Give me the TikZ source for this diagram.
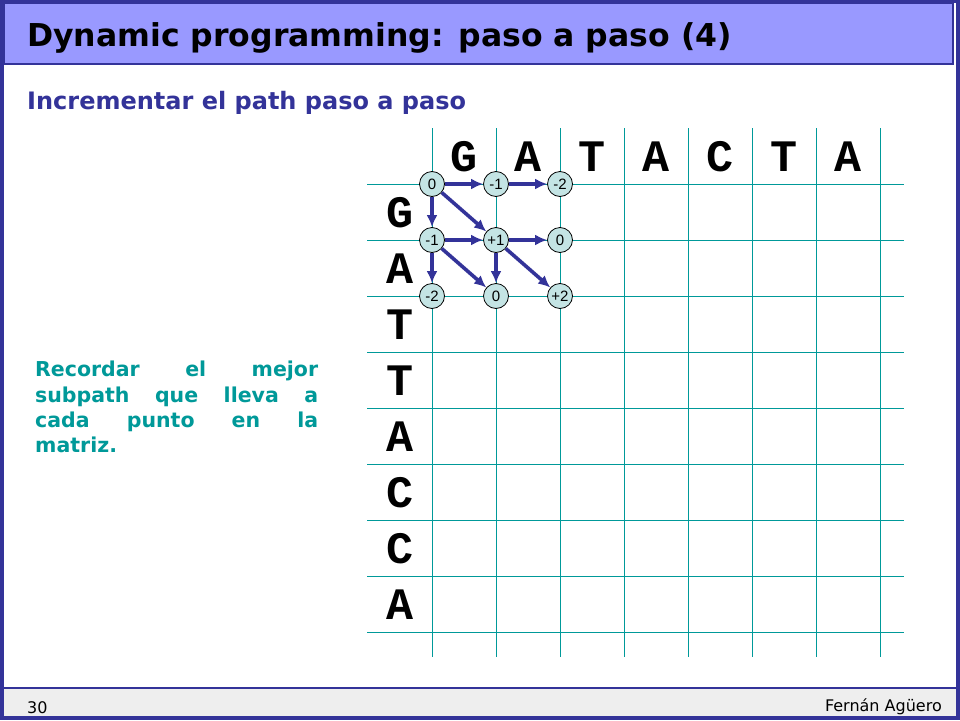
\documentclass[tikz,border=0pt]{standalone}
\usepackage{fontspec}
\setmainfont{DejaVu Sans}
\newfontfamily\seqfont{Liberation Mono}
\newfontfamily\numfont{Liberation Sans}
\usetikzlibrary{arrows.meta}
\definecolor{slideblue}{HTML}{333399}
\definecolor{titlefill}{HTML}{9999FF}
\definecolor{gridteal}{HTML}{009999}
\definecolor{dotfill}{HTML}{C4E4E4}
\definecolor{footgrey}{HTML}{EEEEEE}
\tikzset{
  seq/.style={font=\seqfont\bfseries\fontsize{45}{45}\selectfont},
  score/.style={circle, draw=black, line width=0.8pt, fill=dotfill, minimum size=25pt, inner sep=0pt,
    font=\numfont\fontsize{15}{15}\selectfont},
  move/.style={-{Latex[length=12pt,width=11pt]}, line width=3.6pt, slideblue},
}
\begin{document}
\begin{tikzpicture}[x=1pt, y=-1pt]
\useasboundingbox (0,0) rectangle (960,720);
% slide frame
\fill[slideblue] (0,0) rectangle (960,720);
\fill[white] (4,3) rectangle (956,716);
\fill[footgrey] (4,689) rectangle (956,716);
\draw[slideblue, line width=1.5pt] (4,688) -- (956,688);
\filldraw[fill=titlefill, draw=slideblue, line width=1.5pt] (4,3) rectangle (953,64);
\node[anchor=base west, inner sep=0pt, font=\bfseries\fontsize{31.5}{31.5}\selectfont] (title) at (27,46) {Dynamic programming: paso a paso (4)};
\node[anchor=base west, inner sep=0pt, text=slideblue, font=\bfseries\fontsize{24}{24}\selectfont] (sub) at (27,109) {Incrementar el path paso a paso};
\node[anchor=north west, inner sep=0pt, text width=283pt, align=justify, text=gridteal,
  font=\bfseries\fontsize{20.5}{25.3}\selectfont] (note) at (35,361)
  {Recordar el mejor\linebreak subpath que lleva a\linebreak cada punto en la\linebreak matriz.};
\node[anchor=base west, inner sep=0pt, font=\fontsize{16}{16}\selectfont] (page) at (27,713) {30};
\node[anchor=base east, inner sep=0pt, font=\fontsize{16}{16}\selectfont] (author) at (942,711) {Fernán Agüero};
% matrix grid
\foreach \x in {432,496,...,880} \draw[gridteal, line width=1pt] (\x,128) -- (\x,657);
\foreach \y in {184,240,...,632} \draw[gridteal, line width=1pt] (367,\y) -- (904,\y);
\foreach \b [count=\i from 0] in {G,A,T,A,C,T,A}
  \node[seq] (top\i) at (464+64*\i,157) {\b};
\foreach \b [count=\i from 0] in {G,A,T,T,A,C,C,A}
  \node[seq] (left\i) at (400,213+56*\i) {\b};
% scores
\node[score] (s00) at (432,184) {0};
\node[score] (s01) at (496,184) {-1};
\node[score] (s02) at (560,184) {-2};
\node[score] (s10) at (432,240) {-1};
\node[score] (s11) at (496,240) {+1};
\node[score] (s12) at (560,240) {0};
\node[score] (s20) at (432,296) {-2};
\node[score] (s21) at (496,296) {0};
\node[score] (s22) at (560,296) {+2};
\draw[move] (s00) -- (s01);
\draw[move] (s01) -- (s02);
\draw[move] (s00) -- (s10);
\draw[move] (s00) -- (s11);
\draw[move] (s10) -- (s11);
\draw[move] (s11) -- (s12);
\draw[move] (s10) -- (s20);
\draw[move] (s10) -- (s21);
\draw[move] (s11) -- (s21);
\draw[move] (s11) -- (s22);
\end{tikzpicture}
\end{document}
